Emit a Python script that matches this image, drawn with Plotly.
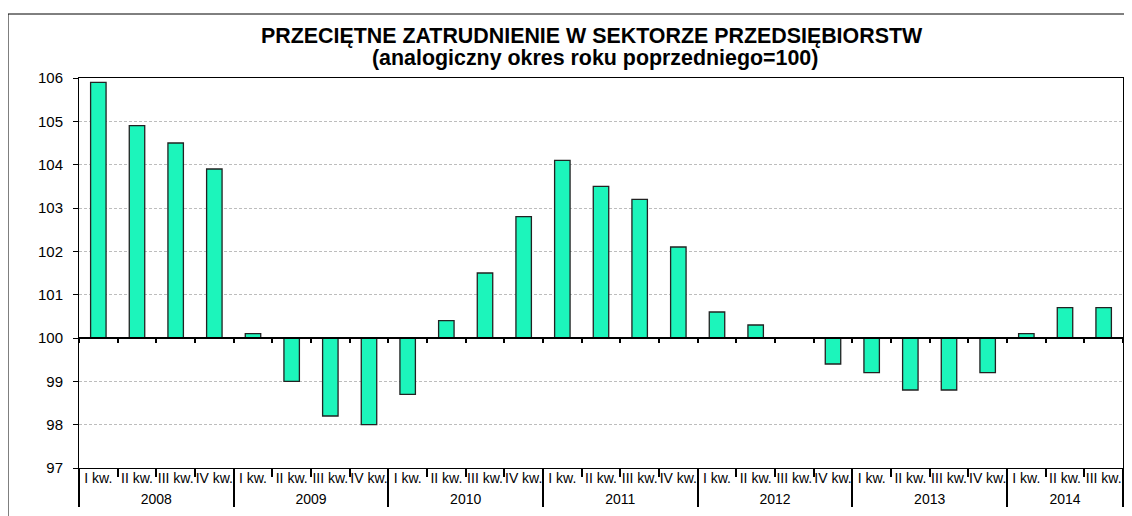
import plotly.graph_objects as go

# ---- data ----
years = ["2008", "2009", "2010", "2011", "2012", "2013", "2014"]
quarters = ["I kw.", "II kw.", "III kw.", "IV kw."]
quarters_per_year = [4, 4, 4, 4, 4, 4, 3]
values = [
    105.9, 104.9, 104.5, 103.9,   # 2008
    100.1, 99.0, 98.2, 98.0,      # 2009
    98.7, 100.4, 101.5, 102.8,    # 2010
    104.1, 103.5, 103.2, 102.1,   # 2011
    100.6, 100.3, 100.0, 99.4,    # 2012
    99.2, 98.8, 98.8, 99.2,       # 2013
    100.1, 100.7, 100.7,          # 2014
]
base_value = 100
title_line1 = "PRZECIĘTNE ZATRUDNIENIE W SEKTORZE PRZEDSIĘBIORSTW"
title_line2 = "(analogiczny okres roku poprzedniego=100)"

year_level = []
quarter_level = []
for y, n in zip(years, quarters_per_year):
    for q in quarters[:n]:
        year_level.append(y)
        quarter_level.append(q)
flat_cats = [f"{y} {q}" for y, q in zip(year_level, quarter_level)]

FONT = "Liberation Sans, Arial, sans-serif"
OFF = 8  # page body margin
W, H = 1132 - OFF, 516 - OFF
PLOT_L, PLOT_R, PLOT_T, PLOT_B = 79, 1123, 78, 468  # page pixels
ML, MR, MT = PLOT_L - OFF, (W + OFF) - PLOT_R, PLOT_T - OFF
MB = (H + OFF) - PLOT_B
PW, PH = W - ML - MR, H - MT - MB


def px(xp):
    return (xp - PLOT_L) / PW


def py(yp):
    return (PLOT_B - yp) / PH


fig = go.Figure()
fig.add_trace(go.Bar(
    x=[year_level, quarter_level],
    y=[v - base_value for v in values],
    base=base_value,
    marker=dict(color="#1CF5BB", line=dict(color="#222222", width=1.3)),
    hoverinfo="skip",
    showlegend=False,
))
# helper trace for the baseline axis at 100
fig.add_trace(go.Scatter(
    x=flat_cats, y=[base_value] * len(flat_cats), xaxis="x2", yaxis="y",
    mode="markers", marker=dict(opacity=0), hoverinfo="skip", showlegend=False,
))

ymin, ymax = 97, 106
fig.update_layout(
    width=W, height=H,
    margin=dict(l=ML, r=MR, t=MT, b=MB),
    paper_bgcolor="white", plot_bgcolor="white",
    font=dict(family=FONT, color="black"),
    bargap=0.6,
    xaxis=dict(
        type="multicategory",
        showline=True, linecolor="black", linewidth=1, mirror=True,
        ticks="outside", ticklen=8, tickcolor="black", tickwidth=1.5,
        tickson="boundaries",
        ticklabelstandoff=-3,
        showdividers=True, dividercolor="black", dividerwidth=1.5,
        tickfont=dict(size=14, family=FONT, color="black"),
        tickangle=0,
        showgrid=False,
    ),
    xaxis2=dict(
        type="category", overlaying="x", anchor="free",
        position=(base_value - ymin) / (ymax - ymin),
        categoryorder="array", categoryarray=flat_cats,
        range=[-0.5, len(flat_cats) - 0.5],
        showline=True, linecolor="black", linewidth=1.5,
        ticks="outside", ticklen=4, tickcolor="black", tickwidth=1.5,
        tickson="boundaries",
        showticklabels=False, showgrid=False, side="bottom",
    ),
    yaxis=dict(
        range=[ymin, ymax], dtick=1,
        showline=True, linecolor="black", linewidth=1, mirror=True,
        ticks="outside", ticklen=5, tickcolor="black",
        tickfont=dict(size=15, family=FONT, color="black"),
        ticklabelstandoff=7,
        showgrid=True, gridcolor="#bdbdbd", gridwidth=1, griddash="3px,2px",
        zeroline=False,
    ),
    annotations=[
        dict(text=f"<b>{title_line1}</b>", xref="paper", yref="paper",
             x=px(592), y=py(36), xanchor="center", yanchor="middle",
             showarrow=False, font=dict(size=21.4, family=FONT, color="black")),
        dict(text=f"<b>{title_line2}</b>", xref="paper", yref="paper",
             x=px(595), y=py(58), xanchor="center", yanchor="middle",
             showarrow=False, font=dict(size=21.4, family=FONT, color="black")),
    ],
    shapes=[
        dict(type="rect", xref="paper", yref="paper",
             x0=px(8), x1=px(1145), y0=py(540), y1=py(14),
             line=dict(color="black", width=1), fillcolor="rgba(0,0,0,0)", layer="below"),
    ],
)

fig.write_html("out.html")
